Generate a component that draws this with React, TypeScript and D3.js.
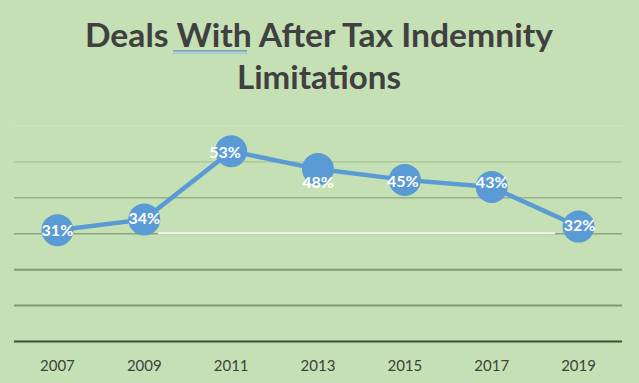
import React from "react";
import * as d3 from "d3";

const years = ["2007", "2009", "2011", "2013", "2015", "2017", "2019"];
const values = [31, 34, 53, 48, 45, 43, 32];
const yTicks = [0, 10, 20, 30, 40, 50, 60];
const titleLines = ["Deals With After Tax Indemnity", "Limitations"];

const W = 639;
const H = 383;
const BG = "#c5e0b4";
const LINE = "#5b9bd5";
const TEXT = "#404040";
const FONT = "Lato, 'Open Sans', sans-serif";

// grid styling per tick (0 is the axis)
const gridStyle: Record<number, { c: string; w: number }> = {
  0: { c: "#3e4c3a", w: 2 },
  10: { c: "#7f9a6c", w: 2 },
  20: { c: "#7f9a6c", w: 2 },
  30: { c: "#8ea57c", w: 1.5 },
  40: { c: "#9bb088", w: 1.5 },
  50: { c: "#a9c196", w: 1.2 },
  60: { c: "#d2e6c5", w: 1 },
};
// label nudges (style only)
const labelNudge = [
  { dx: 0, dy: 0 },
  { dx: 0, dy: -1 },
  { dx: -6, dy: 1 },
  { dx: 0, dy: 13 },
  { dx: -2, dy: 1 },
  { dx: 0, dy: -5 },
  { dx: 1, dy: -1 },
];

export default function App() {
  const left = 14;
  const right = 622;
  const x = d3.scaleBand<string>().domain(years).range([left, right]);
  const y = d3.scaleLinear().domain([0, 60]).range([341.5, 126]);
  const cx = (d: string) => (x(d) ?? 0) + x.bandwidth() / 2;
  const line = d3
    .line<number>()
    .x((_, i) => cx(years[i]))
    .y((v) => y(v));

  return (
    <svg
      width={W}
      height={H}
      style={{ position: "absolute", left: 0, top: 0, display: "block" }}
    >
      <rect x={0} y={0} width={W} height={H} fill={BG} />
      {/* title */}
      <text
        x={85}
        y={47}
        fontFamily={FONT}
        fontWeight={700}
        fontSize={32.5}
        fill={TEXT}
        textLength={468}
        lengthAdjust="spacingAndGlyphs"
      >
        {titleLines[0]}
      </text>
      <text
        x={237}
        y={89}
        fontFamily={FONT}
        fontWeight={700}
        fontSize={32.5}
        fill={TEXT}
        textLength={164}
        lengthAdjust="spacingAndGlyphs"
      >
        {titleLines[1]}
      </text>
      <line x1={173} x2={247} y1={50.8} y2={50.8} stroke="#5a8fc8" strokeWidth={1.3} />
      <line x1={173} x2={247} y1={53.3} y2={53.3} stroke="#9cc2df" strokeWidth={1.3} />

      {/* grid */}
      {yTicks.map((t) => (
        <line
          key={t}
          x1={left}
          x2={right}
          y1={y(t)}
          y2={y(t)}
          stroke={gridStyle[t].c}
          strokeWidth={gridStyle[t].w}
        />
      ))}
      <line x1={158} x2={555} y1={y(30) - 0.5} y2={y(30) - 0.5} stroke="#f4f7ef" strokeWidth={2} />

      {/* x labels */}
      {years.map((d) => (
        <text
          key={d}
          x={cx(d)}
          y={371}
          textAnchor="middle"
          fontFamily={FONT}
          fontSize={15}
          fill={TEXT}
        >
          {d}
        </text>
      ))}

      {/* series */}
      <path d={line(values) ?? ""} fill="none" stroke={LINE} strokeWidth={4.5} />
      {values.map((v, i) => (
        <circle key={i} cx={cx(years[i])} cy={y(v)} r={16} fill={LINE} />
      ))}
      {values.map((v, i) => (
        <text
          key={i}
          x={cx(years[i]) + labelNudge[i].dx}
          y={y(v) + labelNudge[i].dy}
          dy="0.36em"
          textAnchor="middle"
          fontFamily={FONT}
          fontWeight={700}
          fontSize={16}
          fill="#ffffff"
        >
          {v}%
        </text>
      ))}
    </svg>
  );
}
